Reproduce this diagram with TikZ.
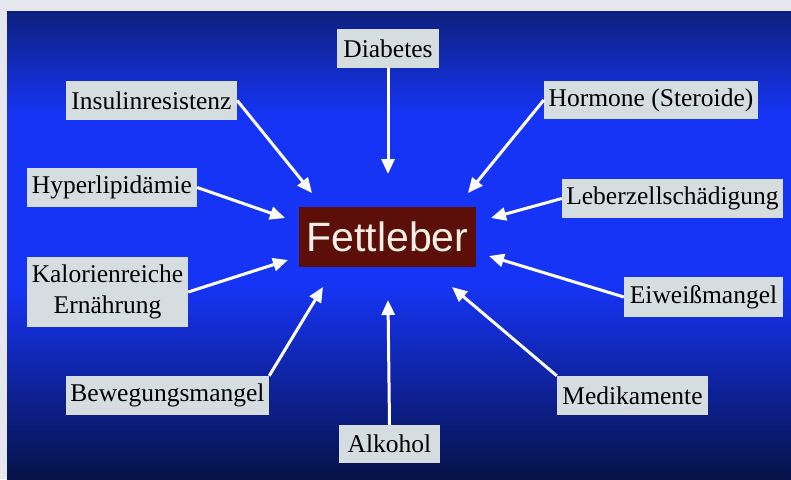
\documentclass[tikz,border=0pt]{standalone}
\usepackage{fontspec}
\setmainfont{Liberation Serif}
\newfontfamily\arialfont{Liberation Sans}
\usetikzlibrary{arrows.meta}
\definecolor{bgtop}{RGB}{12,32,125}
\definecolor{bgmid}{RGB}{22,52,245}
\definecolor{bgbot}{RGB}{6,18,72}
\definecolor{labelfill}{RGB}{214,221,224}
\definecolor{liverfill}{RGB}{92,14,8}
\definecolor{livertext}{RGB}{248,240,230}
\definecolor{frame}{RGB}{230,231,236}
\begin{document}
\begin{tikzpicture}[x=1pt,y=-1pt,
  cause/.style={draw=none,fill=labelfill,inner sep=0pt,align=center,
    font=\fontsize{25.5}{31}\selectfont,text=black},
  liver/.style={fill=liverfill,draw=none,inner sep=0pt,minimum width=177pt,minimum height=60pt,
    font=\arialfont\fontsize{41}{41}\selectfont,text=livertext},
  arr/.style={draw=white,line width=3pt,-{Triangle[length=15pt,width=13pt]}}]
\useasboundingbox (0,0) rectangle (791,479);
\fill[frame] (0,0) rectangle (791,479);
\shade[top color=bgtop,bottom color=bgmid] (7,11) rectangle (791,115);
\fill[bgmid] (7,114) rectangle (791,286);
\shade[top color=bgmid,bottom color=bgbot] (7,285) rectangle (791,479);

\node[liver] (fl) at (387.5,237) {Fettleber};

\node[cause,minimum width=102pt,minimum height=39pt] (dia) at (388,48.5) {Diabetes};
\node[cause,minimum width=171pt,minimum height=39pt] (ins) at (151.5,100.5) {Insulinresistenz};
\node[cause,minimum width=214pt,minimum height=38pt] (hor) at (651,100) {Hormone (Steroide)};
\node[cause,minimum width=170pt,minimum height=39pt] (hyp) at (112,187.5) {Hyperlipidämie};
\node[cause,minimum width=221pt,minimum height=39pt] (leb) at (672.5,198.5) {Leberzellschädigung};
\node[cause,minimum width=161pt,minimum height=70pt] (kal) at (107.5,292) {Kalorienreiche\\Ernährung};
\node[cause,minimum width=159pt,minimum height=40pt] (eiw) at (703.5,297) {Eiweißmangel};
\node[cause,minimum width=203pt,minimum height=39pt] (bew) at (167.5,395.5) {Bewegungsmangel};
\node[cause,minimum width=151pt,minimum height=39pt] (med) at (632.5,395.5) {Medikamente};
\node[cause,minimum width=101pt,minimum height=38pt] (alk) at (389.5,444) {Alkohol};

\coordinate (tdia) at (388,174);
\coordinate (tins) at (312,193);
\coordinate (thor) at (468,193);
\coordinate (thyp) at (285,218);
\coordinate (tleb) at (491,218);
\coordinate (tkal) at (288,260);
\coordinate (teiw) at (489,256);
\coordinate (tbew) at (323,287);
\coordinate (tmed) at (452,287);
\coordinate (talk) at (388,300);

\draw[arr] (dia.south) -- (tdia);
\draw[arr] (ins.east) -- (tins);
\draw[arr] (hor.west) -- (thor);
\draw[arr] (hyp.east) -- (thyp);
\draw[arr] (leb.west) -- (tleb);
\draw[arr] (kal.east) -- (tkal);
\draw[arr] (eiw.west) -- (teiw);
\draw[arr] (bew.north east) -- (tbew);
\draw[arr] (med.north west) -- (tmed);
\draw[arr] (alk.north) -- (talk);
\end{tikzpicture}
\end{document}
